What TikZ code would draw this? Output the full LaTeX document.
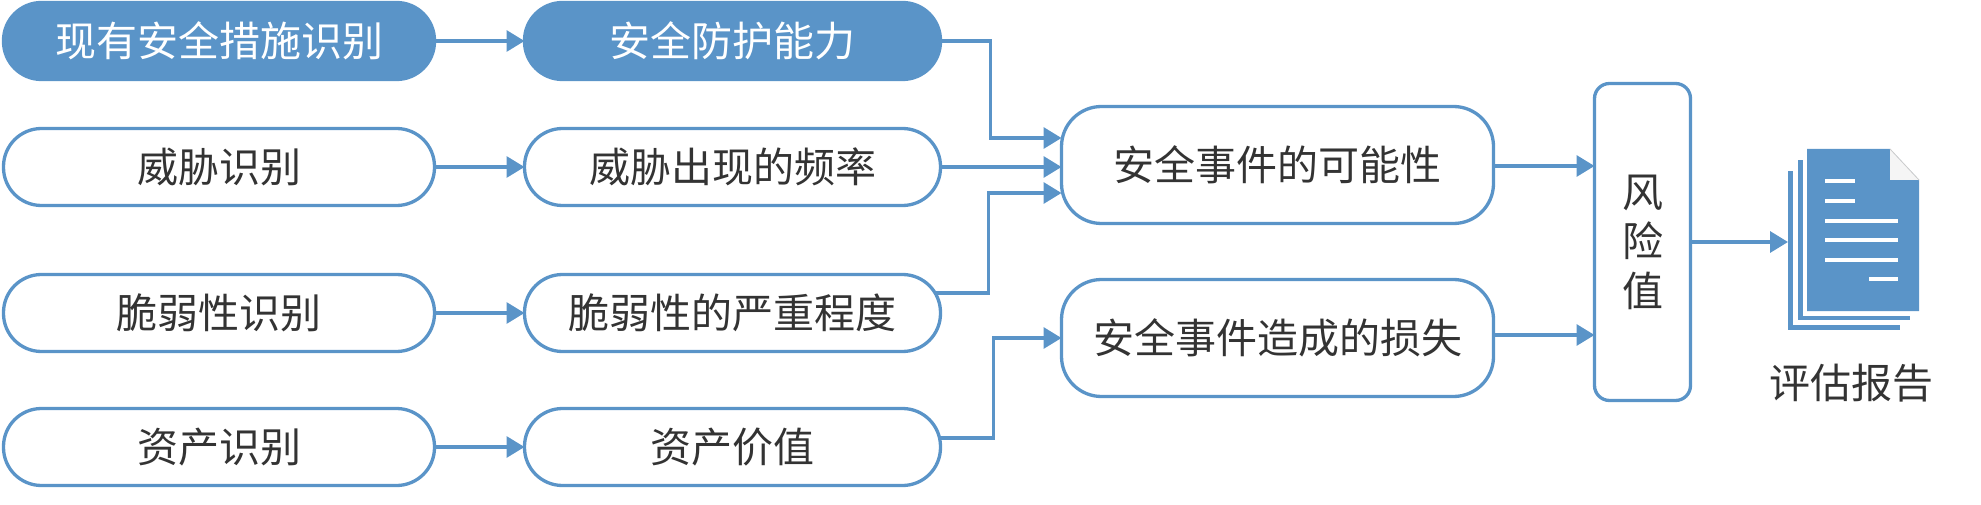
\documentclass[tikz,border=0pt]{standalone}
\usepackage{fontspec}
\setmainfont{Noto Sans CJK SC}
\usetikzlibrary{arrows.meta,calc}
\definecolor{bl}{RGB}{90,148,200}
\definecolor{tx}{RGB}{51,51,51}
\begin{document}
\begin{tikzpicture}[x=1pt,y=-1pt,
  every node/.style={font=\fontsize{41}{49.5}\selectfont, text=tx, inner sep=0pt, outer sep=0pt},
  pill/.style={draw=bl, line width=3.3pt, fill=white, rounded corners=38pt, minimum height=77pt},
  filled/.style={pill, fill=bl, text=white},
  colA/.style={minimum width=431pt},
  colB/.style={minimum width=416pt},
  evbox/.style={draw=bl, line width=3.3pt, fill=white, rounded corners=40pt, minimum width=432pt, minimum height=117pt},
  riskbox/.style={draw=bl, line width=3.3pt, fill=white, rounded corners=15pt, minimum width=96pt, minimum height=317pt, align=center},
  arr/.style={draw=bl, line width=3.3pt, -{Triangle[length=18pt,width=21pt]}}
]
\useasboundingbox (0,0) rectangle (1981,505);

% left column
\node[filled,colA] (A1) at (219,41) {现有安全措施识别};
\node[pill,colA] (A2) at (219,167) {威胁识别};
\node[pill,colA] (A3) at (219,313) {脆弱性识别};
\node[pill,colA] (A4) at (219,447) {资产识别};

% second column
\node[filled,colB] (B1) at (732.5,41) {安全防护能力};
\node[pill,colB] (B2) at (732.5,167) {威胁出现的频率};
\node[pill,colB] (B3) at (732.5,313) {脆弱性的严重程度};
\node[pill,colB] (B4) at (732.5,447) {资产价值};

% third column
\node[evbox] (C1) at (1277.5,165) {安全事件的可能性};
\node[evbox] (C2) at (1277.5,338) {安全事件造成的损失};

% risk
\node[riskbox] (R) at (1642.5,242) {风\\险\\值};

% document icon
\node[minimum width=131pt, minimum height=183pt] (doc) at (1853.5,240.5) {};
\fill[bl] (1788,171) rectangle (1900,330);
\fill[white] (1793,160) rectangle (1912,325);
\fill[bl] (1798,160) rectangle (1910,320);
\fill[white] (1803,148) rectangle (1921,316);
\fill[bl] (1807,149) -- (1890,149) -- (1919,180) -- (1919,311) -- (1807,311) -- cycle;
\fill[gray!8] (1890,149) -- (1919,180) -- (1890,180) -- cycle;
\draw[gray!40, line width=0.8pt] (1890,149) -- (1919,180);
\begin{scope}[white, line width=4pt]
  \draw (1825,181) -- (1855,181);
  \draw (1825,201) -- (1855,201);
  \draw (1825,221) -- (1898,221);
  \draw (1825,240) -- (1898,240);
  \draw (1825,260) -- (1898,260);
  \draw (1869,279) -- (1898,279);
\end{scope}
\node (lbl) at (1851,383) {评估报告};

% connectors
\draw[arr] (A1.east) -- (B1.west);
\draw[arr] (A2.east) -- (B2.west);
\draw[arr] (A3.east) -- (B3.west);
\draw[arr] (A4.east) -- (B4.west);

\draw[arr] (B1.east) -- ++(50,0) |- ([yshift=27pt]C1.west);
\draw[arr] (B2.east) -- (B2.east -| C1.west);
\draw[arr] ($(B3.east)+(-6,-20)$) -- ++(54,0) |- ([yshift=-28pt]C1.west);
\draw[arr] ($(B4.east)+(-2,-9)$) -- ++(55,0) |- (C2.west);

\draw[arr] ([yshift=-1pt]C1.east) -- ([yshift=-1pt]C1.east -| R.west);
\draw[arr] ([yshift=3pt]C2.east) -- ([yshift=3pt]C2.east -| R.west);
\draw[arr] (R.east) -- (R.east -| doc.west);
\end{tikzpicture}
\end{document}
